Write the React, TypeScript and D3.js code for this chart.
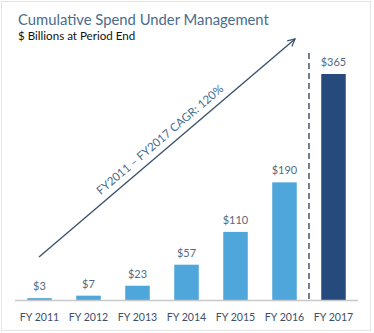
import React from "react";
import * as d3 from "d3";

const categories = ["FY 2011", "FY 2012", "FY 2013", "FY 2014", "FY 2015", "FY 2016", "FY 2017"];
const values = [3, 7, 23, 57, 110, 190, 365];
const valueLabels = ["$3", "$7", "$23", "$57", "$110", "$190", "$365"];
const title = "Cumulative Spend Under Management";
const subtitle = "$ Billions at Period End";
const cagrLabel = "FY2011 \u2013 FY2017 CAGR: 120%";

const W = 374;
const H = 333;
const FONT = "Lato, 'Open Sans', sans-serif";

export default function App() {
  const x = d3.scaleBand<string>().domain(categories).range([15, 358]).paddingInner(0.5).paddingOuter(0.25);
  const y = d3.scaleLinear().domain([0, 365]).range([300, 74]);
  const lastIdx = categories.length - 1;
  const dashX = ((x(categories[lastIdx - 1]) as number) + x.bandwidth() + (x(categories[lastIdx]) as number)) / 2;

  const a0 = [39, 257];
  const a1 = [295, 39];
  const ang = (Math.atan2(a1[1] - a0[1], a1[0] - a0[0]) * 180) / Math.PI;
  const mid = [(a0[0] + a1[0]) / 2, (a0[1] + a1[1]) / 2];

  return (
    <svg width={W} height={H} style={{ position: "absolute", left: 0, top: 0 }} fontFamily={FONT}>
      <defs>
        <marker id="arr" viewBox="0 0 10 10" refX="9" refY="5" markerWidth="9" markerHeight="9" orient="auto" markerUnits="userSpaceOnUse">
          <path d="M1,1 L9,5 L1,9" fill="none" stroke="#3b536e" strokeWidth={1.4} />
        </marker>
      </defs>
      <rect x={0} y={0} width={W} height={H} fill="#ffffff" />
      <rect x={1.5} y={1.5} width={369} height={329} fill="none" stroke="#e3e3e3" />
      <text x={18} y={25} fontSize={14.8} fill="#4a6b8c">{title}</text>
      <text x={18} y={40} fontSize={11.6} fill="#111">{subtitle}</text>

      {categories.map((c, i) => (
        <g key={c}>
          <rect
            x={x(c)}
            y={y(values[i])}
            width={x.bandwidth()}
            height={y(0) - y(values[i])}
            fill={i === lastIdx ? "#264a7c" : "#4ea6da"}
          />
          <text x={(x(c) as number) + x.bandwidth() / 2} y={y(values[i]) - 8} fontSize={11} textAnchor="middle" fill="#556a80">
            {valueLabels[i]}
          </text>
          <text x={(x(c) as number) + x.bandwidth() / 2} y={321} fontSize={10.6} textAnchor="middle" fill="#3c4f6a">
            {c}
          </text>
        </g>
      ))}

      <line x1={15} x2={358} y1={y(0) + 0.5} y2={y(0) + 0.5} stroke="#c8c8c8" strokeWidth={1.5} />
      <line x1={dashX} x2={dashX} y1={53} y2={300} stroke="#44546a" strokeWidth={1.5} strokeDasharray="6,4" />

      <line x1={a0[0]} y1={a0[1]} x2={a1[0]} y2={a1[1]} stroke="#3b536e" strokeWidth={1.4} markerEnd="url(#arr)" />
      <text
        transform={`translate(${mid[0]},${mid[1]}) rotate(${ang})`}
        x={0}
        y={-7}
        fontSize={11.5}
        textAnchor="middle"
        fill="#4a6b8c"
      >
        {cagrLabel}
      </text>
    </svg>
  );
}
